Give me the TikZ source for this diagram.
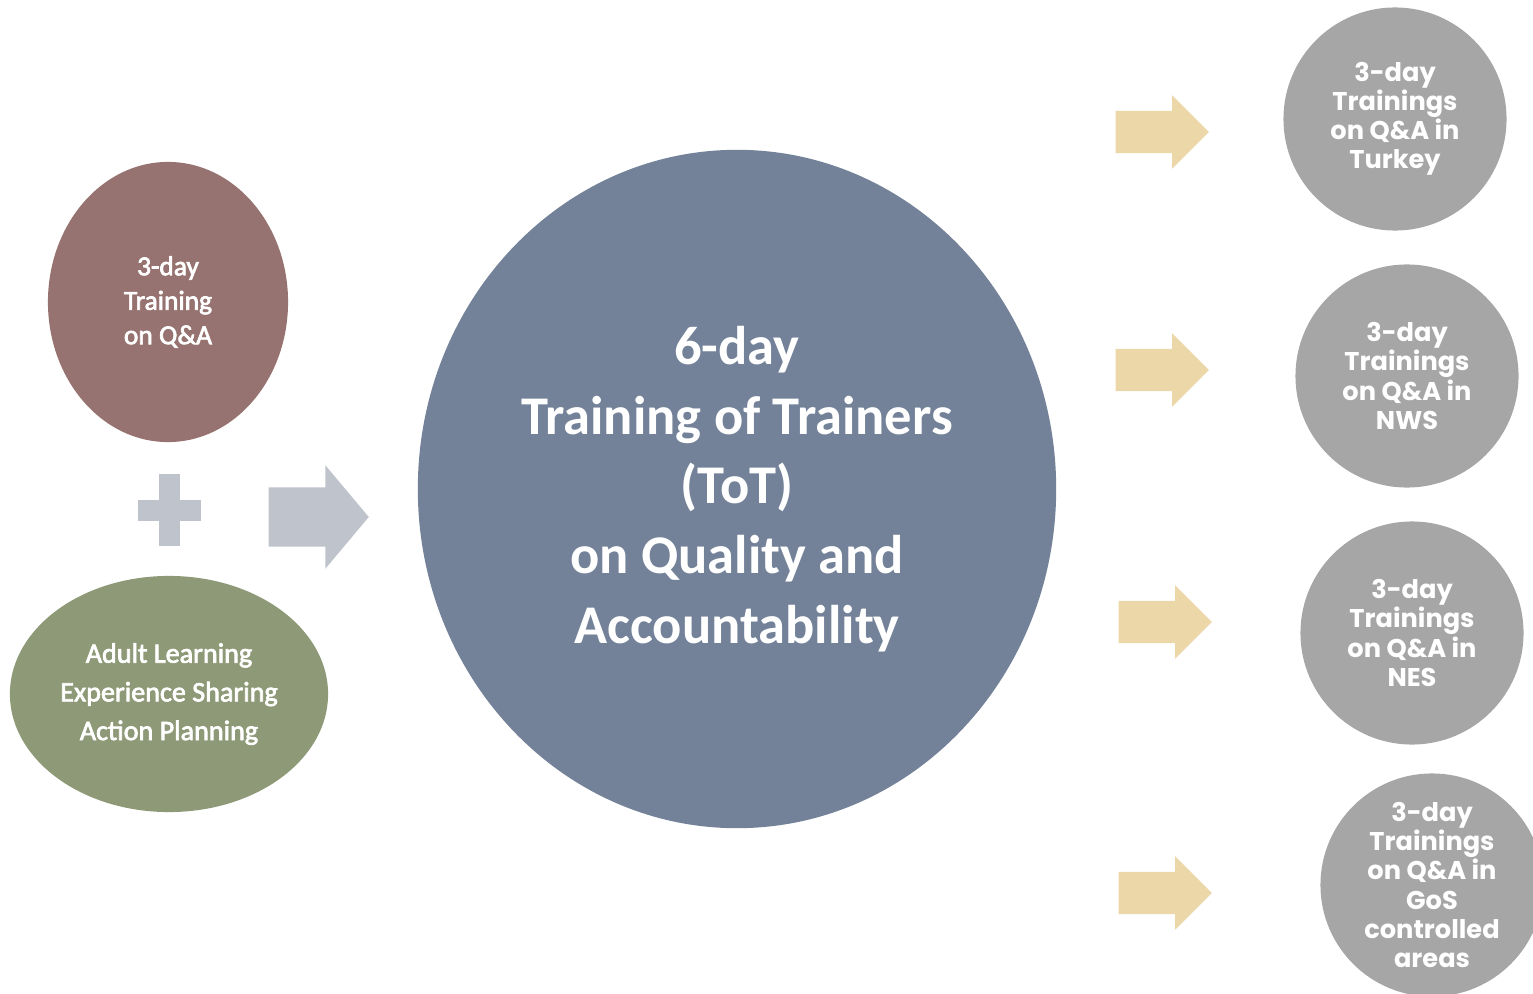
\documentclass[tikz,border=0pt]{standalone}
\usepackage{fontspec}
\setmainfont{Carlito}
\newfontfamily\heavyfont[FakeBold=2.5]{Carlito}
\newfontfamily\gothic{Poppins}
\usetikzlibrary{shapes.geometric,shapes.arrows}
\definecolor{brownc}{HTML}{967370}
\definecolor{greenc}{HTML}{8E9977}
\definecolor{mainc}{HTML}{738299}
\definecolor{greyc}{HTML}{A6A6A6}
\definecolor{plusc}{HTML}{BEC3CC}
\definecolor{beigec}{HTML}{EBD7A8}
\tikzset{
  sitecircle/.style={circle,fill=greyc,minimum size=2.23cm,inner sep=0pt,text=white,align=center,font=\gothic\bfseries\fontsize{7.3}{8.25}\selectfont},
  outarrow/.style={single arrow,fill=beigec,anchor=tail,minimum height=0.93cm,inner xsep=0pt,inner ysep=0.205cm,single arrow head extend=0.155cm,single arrow tip angle=90}
}
\begin{document}
\begin{tikzpicture}[x=0.01cm,y=-0.01cm]
\useasboundingbox (0,0) rectangle (1533,994);
\clip (0,0) rectangle (1533,994);
\node[ellipse,fill=brownc,minimum width=2.4cm,minimum height=2.8cm,inner sep=0pt,text=white,align=center,font=\heavyfont\fontsize{7.8}{9.8}\selectfont] (qa) at (168,302) {3-day\\Training\\on Q\&A};
\node[ellipse,fill=greenc,minimum width=3.18cm,minimum height=2.36cm,inner sep=0pt,text=white,align=center,font=\heavyfont\fontsize{8}{11}\selectfont] (adult) at (169,694) {Adult Learning\\Experience Sharing\\Action Planning};
\fill[plusc] (159,474) rectangle (180,546);
\fill[plusc] (138,500) rectangle (201,521);
\node[single arrow,fill=plusc,anchor=tail,minimum height=1cm,inner xsep=0pt,inner ysep=0.29cm,single arrow head extend=0.22cm,single arrow tip angle=100] (inarrow) at (268,517) {};
\node[ellipse,fill=mainc,minimum width=6.38cm,minimum height=6.78cm,inner sep=0pt,text=white,align=center,font=\bfseries\fontsize{15.5}{19.8}\selectfont] (tot) at (737,489) {6-day\\Training of Trainers\\(ToT)\\on Quality and\\Accountability};
\node[outarrow] (a1) at (1115,132) {};
\node[outarrow] (a2) at (1115,370) {};
\node[outarrow] (a3) at (1118,622) {};
\node[outarrow] (a4) at (1118,893) {};
\node[sitecircle] (turkey) at (1395,119) {3-day\\Trainings\\on Q\&A in\\Turkey};
\node[sitecircle] (nws) at (1407,376) {3-day\\Trainings\\on Q\&A in\\NWS};
\node[sitecircle] (nes) at (1412,633) {3-day\\Trainings\\on Q\&A in\\NES};
\node[sitecircle] (gos) at (1432,885) {3-day\\Trainings\\on Q\&A in\\GoS\\controlled\\areas};
\end{tikzpicture}
\end{document}
